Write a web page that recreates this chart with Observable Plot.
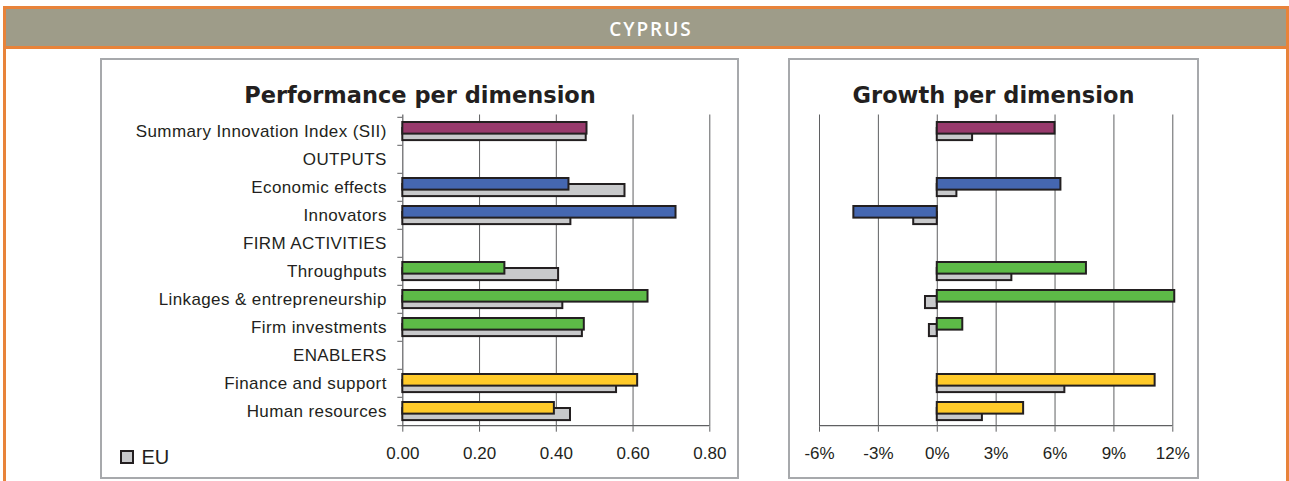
<!DOCTYPE html>
<html>
<head>
<meta charset="utf-8">
<script src="https://cdn.jsdelivr.net/npm/d3@7"></script>
<script src="https://cdn.jsdelivr.net/npm/@observablehq/plot@0.6"></script>
<style>
  body { margin: 0; background: #fff; }
  #page { position: relative; width: 1289px; height: 481px; overflow: hidden; font-family: "Liberation Sans", Arial, sans-serif; color: #231f20; }
  #frame { position: absolute; left: 3px; top: 6px; width: 1280px; height: 480px; border-left: 3px solid #e8833a; border-right: 3px solid #e8833a; border-top: 3px solid #e8833a; }
  #band { position: absolute; left: 6px; top: 9px; width: 1280px; height: 37px; background: #9e9c89; border-bottom: 3px solid #e8833a; }
  #country { position: absolute; left: 6px; top: 19px; width: 1290px; text-align: center; font-family: "Open Sans", sans-serif; font-weight: 600; font-size: 19px; letter-spacing: 2px; line-height: 20px; color: #fff; }
  .box { position: absolute; top: 58px; height: 417px; border: 2px solid #a7a9ac; }
  .chart { position: absolute; top: 60px; }
  .ctitle { position: absolute; top: 84px; text-align: center; font-family: "DejaVu Sans", Verdana, sans-serif; font-weight: bold; font-size: 22.5px; line-height: 22.5px; color: #231f20; }
  #legsq { position: absolute; left: 120px; top: 450px; width: 10px; height: 10px; border: 2px solid #231f20; background: #c8c9cb; }
  #legtx { position: absolute; left: 141.5px; top: 447px; font-size: 20px; line-height: 20px; }
  .ylab text { letter-spacing: 0.4px; }
</style>
</head>
<body>
<div id="page">
  <div id="frame"></div>
  <div id="band"></div>
  <div id="country">CYPRUS</div>
  <div class="box" style="left:100px;width:635px;"></div>
  <div class="box" style="left:788px;width:407px;"></div>
  <div id="left" class="chart" style="left:102px;"></div>
  <div id="right" class="chart" style="left:790px;"></div>
  <div class="ctitle" style="left:102px;width:636px;">Performance per dimension</div>
  <div class="ctitle" style="left:790px;width:407px;">Growth per dimension</div>
  <div id="legsq"></div>
  <div id="legtx">EU</div>
</div>
<script>
// ---- data ----
const categories = [
  "Summary Innovation Index (SII)", "OUTPUTS", "Economic effects", "Innovators",
  "FIRM ACTIVITIES", "Throughputs", "Linkages & entrepreneurship", "Firm investments",
  "ENABLERS", "Finance and support", "Human resources"
];
const groups = ["sii", null, "outputs", "outputs", null, "firm", "firm", "firm", null, "enablers", "enablers"];
const perfCY = [0.480, null, 0.433, 0.712, null, 0.266, 0.639, 0.473, null, 0.612, 0.395];
const perfEU = [0.478, null, 0.579, 0.438, null, 0.406, 0.417, 0.468, null, 0.557, 0.437];
const growthCY = [0.060, null, 0.063, -0.0425, null, 0.076, 0.121, 0.013, null, 0.111, 0.044];
const growthEU = [0.018, null, 0.010, -0.012, null, 0.038, -0.006, -0.004, null, 0.065, 0.023];
const perfTicks = [0, 0.2, 0.4, 0.6, 0.8];
const growthTicks = [-0.06, -0.03, 0, 0.03, 0.06, 0.09, 0.12];
const groupColors = {sii: "#983a6c", outputs: "#4567b1", firm: "#5dba47", enablers: "#ffca2a"};
const euColor = "#c8c9cb";

const rows = (cy, eu) => categories.map((c, i) => ({cat: c, group: groups[i], cy: cy[i], eu: eu[i]}))
  .filter(d => d.cy != null);

// ---- layout constants ----
const H = 417, MT = 54.5, MB = 50.3;
const BW = (H - MT - MB) / categories.length;
const ink = "#231f20", gridC = "#5f6062";

function barMarks(data) {
  return [
    Plot.barX(data, {y: "cat", x: "eu", fill: euColor, stroke: ink, strokeWidth: 2,
      insetTop: 11, insetBottom: 4.9}),
    Plot.barX(data, {y: "cat", x: "cy", fill: d => groupColors[d.group], stroke: ink, strokeWidth: 2,
      insetTop: 5, insetBottom: BW - 17})
  ];
}

const style = {fontFamily: "'Liberation Sans', Arial, sans-serif", fontSize: "17px", color: ink, background: "transparent", overflow: "visible"};
const lastCat = categories[categories.length - 1];

// ---- left: performance ----
const perf = rows(perfCY, perfEU);
const left = Plot.plot({
  width: 636, height: H,
  marginLeft: 300.3, marginRight: 28.7, marginTop: MT, marginBottom: MB,
  style,
  x: {domain: [0, 0.8], axis: null},
  y: {domain: categories, padding: 0, axis: null},
  marks: [
    Plot.ruleX(perfTicks.slice(1), {stroke: gridC, strokeWidth: 1}),
    Plot.ruleX([0], {stroke: gridC, strokeWidth: 1.2}),
    Plot.ruleY([lastCat], {x1: 0, x2: 0.8, dy: BW / 2, stroke: gridC, strokeWidth: 1.2}),
    Plot.axisY({tickSize: 5, tickFormat: () => "", dy: -BW / 2, stroke: gridC, label: null}),
    Plot.axisY([lastCat], {tickSize: 5, tickFormat: () => "", dy: BW / 2, stroke: gridC, label: null}),
    Plot.axisX({ticks: perfTicks, tickFormat: d3.format(".2f"), tickSize: 5, tickPadding: 15, fontSize: 17, stroke: gridC, fill: ink, label: null}),
    Plot.axisY({tickSize: 0, tickPadding: 16, fontSize: 17, fill: ink, className: "ylab", label: null}),
    ...barMarks(perf)
  ]
});
document.getElementById("left").appendChild(left);

// ---- right: growth ----
const growth = rows(growthCY, growthEU);
const right = Plot.plot({
  width: 407, height: H,
  marginLeft: 29, marginRight: 24.7, marginTop: MT, marginBottom: MB,
  style,
  x: {domain: [-0.06, 0.12], axis: null},
  y: {domain: categories, padding: 0, axis: null},
  marks: [
    Plot.ruleX(growthTicks, {stroke: gridC, strokeWidth: 1}),
    Plot.ruleY([lastCat], {x1: -0.06, x2: 0.12, dy: BW / 2, stroke: gridC, strokeWidth: 1.2}),
    Plot.axisX({ticks: growthTicks, tickFormat: d => Math.round(d * 100) + "%", tickSize: 5, tickPadding: 15, fontSize: 17, stroke: gridC, fill: ink, label: null}),
    ...barMarks(growth)
  ]
});
document.getElementById("right").appendChild(right);
</script>
</body>
</html>
